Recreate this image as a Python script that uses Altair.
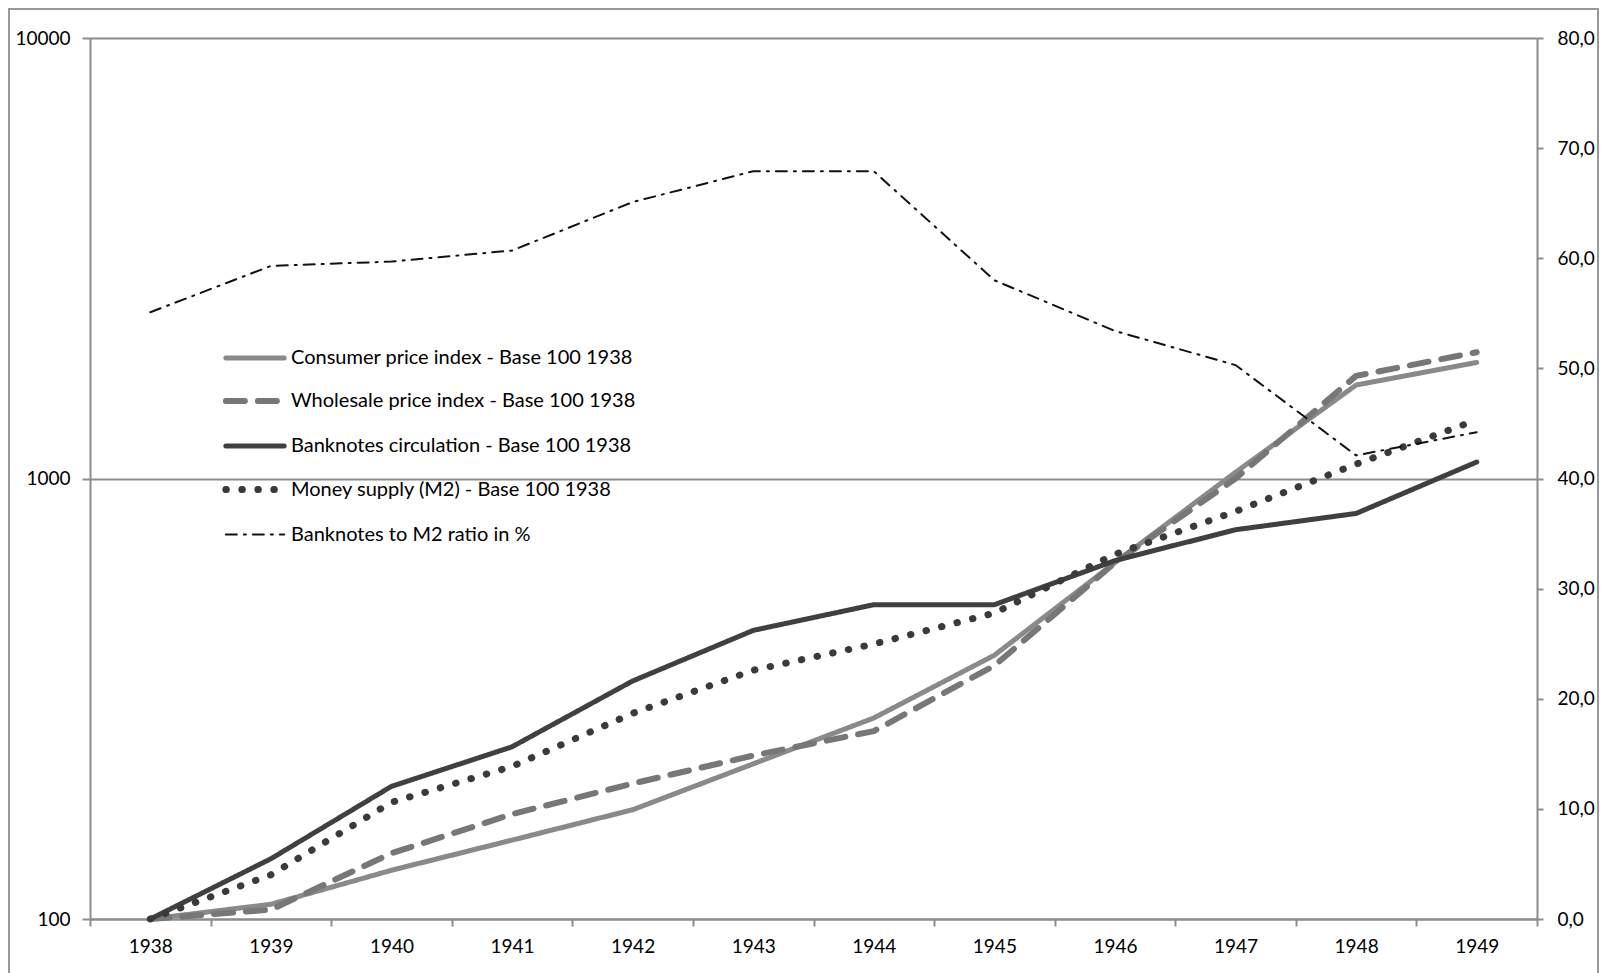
import altair as alt
import pandas as pd

years = [str(y) for y in range(1938, 1950)]
cpi = [100, 108, 129, 151, 177, 225, 286, 397, 644, 1033, 1630, 1834]
wpi = [100, 105, 141, 173, 203, 235, 267, 376, 644, 1000, 1710, 1935]
banknotes = [100, 137, 200, 246, 347, 452, 517, 517, 651, 765, 833, 1090]
m2 = [100, 126, 184, 222, 293, 367, 421, 495, 673, 842, 1078, 1358]
ratio = [55.1, 59.3, 59.7, 60.7, 65.1, 67.9, 67.9, 58.0, 53.4, 50.3, 42.1, 44.2]

names = [
    "Consumer price index - Base 100 1938",
    "Wholesale price index - Base 100 1938",
    "Banknotes circulation - Base 100 1938",
    "Money supply (M2) - Base 100 1938",
    "Banknotes to M2 ratio in %",
]
colors = ["#8a8a8a", "#777777", "#404040", "#3a3a3a", "#111111"]
dashes = [[1, 0], [19, 13], [1, 0], [0.5, 15.5], [11, 7, 2, 7]]
widths = [5, 6, 5, 7, 2]

rows = []
for name, vals in zip(names[:4], [cpi, wpi, banknotes, m2]):
    for y, v in zip(years, vals):
        rows.append({"year": y, "series": name, "value": v})
idx_df = pd.DataFrame(rows)
ratio_df = pd.DataFrame({"year": years, "series": names[4], "value": ratio})

FONT = "Lato"
W, H = 1447, 881

xenc = alt.X(
    "year:O",
    scale=alt.Scale(type="band", paddingInner=0, paddingOuter=0),
    axis=alt.Axis(
        title=None, labelAngle=0, tickBand="extent", domainColor="#8c8c8c",
        domainWidth=2, tickColor="#8c8c8c", tickWidth=2, tickSize=7,
        labelFont=FONT, labelFontSize=19, labelColor="#000", labelPadding=11,
    ),
)

legend = alt.Legend(
    orient="none", legendX=132, legendY=288, title=None, symbolType="stroke",
    symbolSize=3400, labelFont=FONT, labelFontSize=20, labelColor="#000",
    rowPadding=0.5, padding=0, labelOffset=3, labelLimit=500,
)
color = alt.Color("series:N", scale=alt.Scale(domain=names, range=colors), legend=legend)
dash = alt.StrokeDash("series:N", scale=alt.Scale(domain=names, range=dashes), legend=legend)
sw = alt.StrokeWidth("series:N", scale=alt.Scale(type="ordinal", domain=names, range=widths), legend=legend)

left = alt.Chart(idx_df).mark_line(strokeCap="round", strokeJoin="round").encode(
    x=xenc,
    y=alt.Y(
        "value:Q",
        scale=alt.Scale(type="log", domain=[100, 10000]),
        axis=alt.Axis(
            title=None, values=[100, 1000, 10000], format="d", grid=True,
            gridColor="#8c8c8c", gridWidth=2, domainColor="#8c8c8c", domainWidth=2,
            tickColor="#8c8c8c", tickWidth=2, tickSize=8, labelFont=FONT,
            labelFontSize=19, labelColor="#000", labelPadding=12,
        ),
    ),
    color=color, strokeDash=dash, strokeWidth=sw,
)

right = alt.Chart(ratio_df).mark_line(strokeCap="round").encode(
    x=xenc,
    y=alt.Y(
        "value:Q",
        scale=alt.Scale(domain=[0, 80]),
        axis=alt.Axis(
            title=None, orient="right", values=list(range(0, 81, 10)), grid=False,
            labelExpr="replace(format(datum.value, '.1f'), '.', ',')",
            domainColor="#8c8c8c", domainWidth=2, tickColor="#8c8c8c", tickWidth=2,
            tickSize=6, labelFont=FONT, labelFontSize=19, labelColor="#000",
            labelPadding=14,
        ),
    ),
    color=color, strokeDash=dash, strokeWidth=sw,
)

frame = alt.Chart(pd.DataFrame({"a": [0]})).mark_rect(
    fill=None, stroke="#999999", strokeWidth=2
).encode(
    x=alt.value(-81), x2=alt.value(1508), y=alt.value(-29), y2=alt.value(960)
)

chart = (
    alt.layer(left, right, frame)
    .resolve_scale(y="independent")
    .properties(width=W, height=H, padding=0)
    .configure_view(stroke="#8c8c8c", strokeWidth=2)
    .configure(font=FONT)
)

chart.save(
    "out.html",
    embed_options={
        "renderer": "svg",
        "actions": False,
        "patch": [
            {
                "op": "add",
                "path": "/legends/0/encode",
                "value": {"symbols": {"update": {"strokeCap": {"value": "round"}}}},
            }
        ],
    },
)
